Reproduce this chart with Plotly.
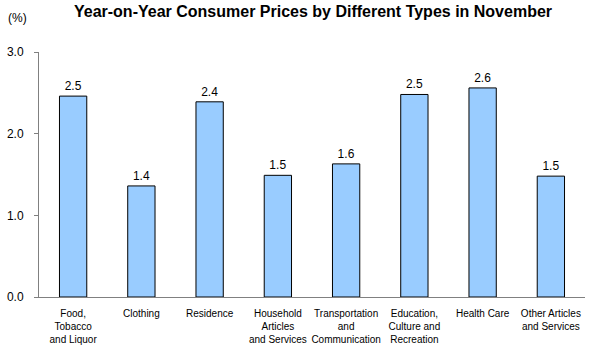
import plotly.graph_objects as go

categories = [
    "Food,<br>Tobacco<br>and Liquor",
    "Clothing",
    "Residence",
    "Household<br>Articles<br>and Services",
    "Transportation<br>and<br>Communication",
    "Education,<br>Culture and<br>Recreation",
    "Health Care",
    "Other Articles<br>and Services",
]
values = [2.46, 1.36, 2.39, 1.49, 1.63, 2.48, 2.56, 1.48]
y_ticks = [0, 1, 2, 3]
y_tick_labels = ["0.0", "1.0", "2.0", "3.0"]

font_family = "Arial, Liberation Sans, sans-serif"

L, R, T, B = 39, 7, 52, 54
W, H = 592, 351
pw, ph = W - L - R, H - T - B

fig = go.Figure(
    go.Bar(
        x=categories,
        y=values,
        marker=dict(color="#99CCFF", line=dict(color="#000000", width=1)),
        texttemplate="%{y:.1f}",
        textposition="outside",
        textfont=dict(family=font_family, size=12, color="#000000"),
        cliponaxis=False,
    )
)

fig.update_layout(
    width=W,
    height=H,
    margin=dict(l=L, r=R, t=T, b=B),
    paper_bgcolor="white",
    plot_bgcolor="white",
    bargap=0.6,
    showlegend=False,
    font=dict(family=font_family, color="#000000"),
    title=dict(
        text="<b>Year-on-Year Consumer Prices by Different Types in November</b>",
        x=313 / W,
        xanchor="center",
        y=1 - 11 / H,
        yanchor="middle",
        font=dict(family=font_family, size=16, color="#000000"),
    ),
    annotations=[
        dict(
            text="(%)",
            x=(17 - L) / pw,
            y=(H - B - 18) / ph,
            xref="paper",
            yref="paper",
            xanchor="center",
            yanchor="middle",
            showarrow=False,
            font=dict(family=font_family, size=12, color="#000000"),
        )
    ],
)

fig.update_xaxes(
    showline=True,
    linecolor="#808080",
    linewidth=1,
    ticks="",
    showgrid=False,
    tickfont=dict(family=font_family, size=10, color="#000000"),
    tickangle=0,
    ticklabelstandoff=7,
)
fig.update_yaxes(
    range=[0, 3],
    tickvals=y_ticks,
    ticktext=y_tick_labels,
    showline=True,
    linecolor="#808080",
    linewidth=1,
    ticks="outside",
    ticklen=4,
    tickcolor="#808080",
    showgrid=False,
    zeroline=False,
    tickfont=dict(family=font_family, size=12, color="#000000"),
    ticklabelstandoff=8,
)

fig.write_html("out.html")
